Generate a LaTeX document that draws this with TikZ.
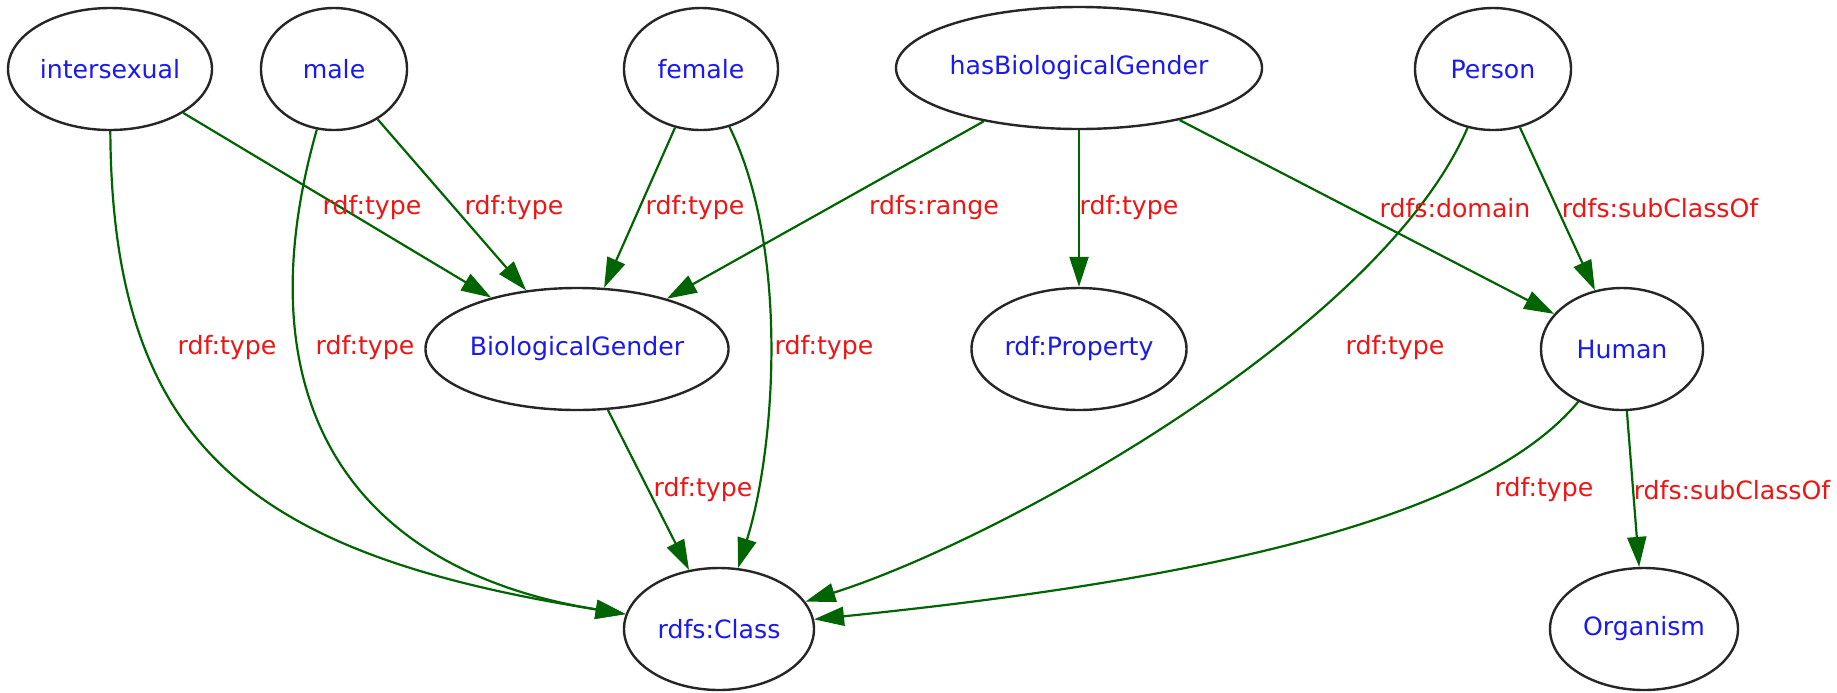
\documentclass[tikz,border=0pt]{standalone}
\usepackage{fontspec}
\setmainfont{DejaVu Sans}
\usetikzlibrary{shapes.geometric,arrows.meta}
\definecolor{nodeblue}{RGB}{25,25,240}
\definecolor{labelred}{RGB}{240,20,20}
\definecolor{edgegreen}{RGB}{0,100,0}
\begin{document}
\begin{tikzpicture}[x=0.5pt,y=-0.5pt,
  cls/.style={ellipse,draw=black!85,line width=1.2pt,minimum height=61pt,
    inner sep=0pt,text=nodeblue,font=\fontsize{12.6}{15}\selectfont},
  rel/.style={draw=edgegreen,line width=1.1pt,
    -{Triangle[length=15pt,width=9.5pt]}},
  lbl/.style={text=labelred,inner sep=0pt,font=\fontsize{12.6}{15}\selectfont}]

% canvas
\fill[white] (0,0) rectangle (1837,692);
\useasboundingbox (0,0) rectangle (1837,692);

% classes and properties
\node[cls,minimum width=102pt]   (intersexual) at (110,69)  {intersexual};
\node[cls,minimum width=73pt]    (male)        at (334,69)  {male};
\node[cls,minimum width=77pt]    (female)      at (701,69)  {female};
\node[cls,minimum width=166pt]   (hbg)         at (1079,68) {hasBiologicalGender};
\node[cls,minimum width=78pt]    (person)      at (1493,69) {Person};
\node[cls,minimum width=141pt]   (bg)          at (577,349) {BiologicalGender};
\node[cls,minimum width=107.5pt] (property)    at (1079,349){rdf:Property};
\node[cls,minimum width=81pt]    (human)       at (1622,349){Human};
\node[cls,minimum width=95pt]    (class)       at (719,629) {rdfs:Class};
\node[cls,minimum width=94pt]    (organism)    at (1644,629){Organism};

% straight relations
\draw[rel] (intersexual) -- (bg);
\draw[rel] (male) -- (bg);
\draw[rel] (female) -- (bg);
\draw[rel] (hbg) -- (bg);
\draw[rel] (hbg) -- (property);
\draw[rel] (hbg) -- (human);
\draw[rel] (person) -- (human);
\draw[rel] (human) -- (organism);
\draw[rel] (bg) -- (class);

% curved relations into rdfs:Class
\draw[rel] (intersexual) .. controls (112,450) and (255,555) .. (class);
\draw[rel] (male) .. controls (240,400) and (350,570) .. (class);
\draw[rel] (female) .. controls (790,250) and (775,450) .. (class);
\draw[rel] (person) .. controls (1380,330) and (1000,540) .. (class);
\draw[rel] (human) .. controls (1480,520) and (1200,580) .. (class);

% edge labels
\node[lbl] (l1)  at (372,208)  {rdf:type};
\node[lbl] (l2)  at (514,208)  {rdf:type};
\node[lbl] (l3)  at (695,208)  {rdf:type};
\node[lbl] (l4)  at (934,208)  {rdfs:range};
\node[lbl] (l5)  at (1129,208) {rdf:type};
\node[lbl] (l6)  at (1455,208) {rdfs:domain};
\node[lbl] (l7)  at (1660,208) {rdfs:subClassOf};
\node[lbl] (l8)  at (227,348)  {rdf:type};
\node[lbl] (l9)  at (365,348)  {rdf:type};
\node[lbl] (l10) at (824,348)  {rdf:type};
\node[lbl] (l11) at (1395,348) {rdf:type};
\node[lbl] (l12) at (703,490)  {rdf:type};
\node[lbl] (l13) at (1544,490) {rdf:type};
\node[lbl] (l14) at (1732,490) {rdfs:subClassOf};
\end{tikzpicture}
\end{document}
